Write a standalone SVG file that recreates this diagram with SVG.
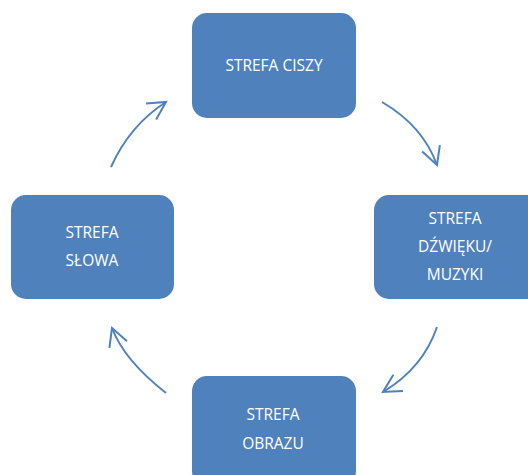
<svg xmlns="http://www.w3.org/2000/svg" width="528" height="475" viewBox="0 0 528 475">
<style>
.box{fill:#4F81BD;}
.lbl{fill:#FFFFFF;font-family:"Open Sans","Liberation Sans",sans-serif;font-size:15.5px;text-anchor:middle;}
.arr{fill:none;stroke:#4F81BD;stroke-width:2;marker-end:url(#chev);}
</style>
<defs>
<marker id="chev" markerUnits="userSpaceOnUse" viewBox="-22 -12 24 24" markerWidth="24" markerHeight="24" refX="0" refY="0" orient="auto" overflow="visible">
<path d="M-17.7,-9.4 L0,0 L-17.7,9.4" fill="none" stroke="#4F81BD" stroke-width="2"/>
</marker>
</defs>
<rect width="528" height="475" fill="#FFFFFF"/>
<g id="connectors">
<path class="arr" d="M382,102 Q423,126 437,165"/>
<path class="arr" d="M437,327 Q423,368 383,392"/>
<path class="arr" d="M111,167 Q130,125 166,102"/>
<path class="arr" d="M166,393 Q124,360 112,328"/>
</g>
<g id="node-ciszy">
<rect class="box" x="192" y="13" width="164" height="105" rx="15"/>
<text class="lbl" x="274" y="71">STREFA CISZY</text>
</g>
<g id="node-dzwieku">
<rect class="box" x="374" y="195" width="170" height="104" rx="15"/>
<text class="lbl" x="455" y="224">STREFA</text>
<text class="lbl" x="455" y="252">DŹWIĘKU/</text>
<text class="lbl" x="455" y="280">MUZYKI</text>
</g>
<g id="node-slowa">
<rect class="box" x="11" y="195" width="163" height="104" rx="15"/>
<text class="lbl" x="92" y="238">STREFA</text>
<text class="lbl" x="92" y="266">SŁOWA</text>
</g>
<g id="node-obrazu">
<rect class="box" x="192" y="376" width="164" height="110" rx="15"/>
<text class="lbl" x="273" y="420">STREFA</text>
<text class="lbl" x="273" y="449">OBRAZU</text>
</g>
</svg>
